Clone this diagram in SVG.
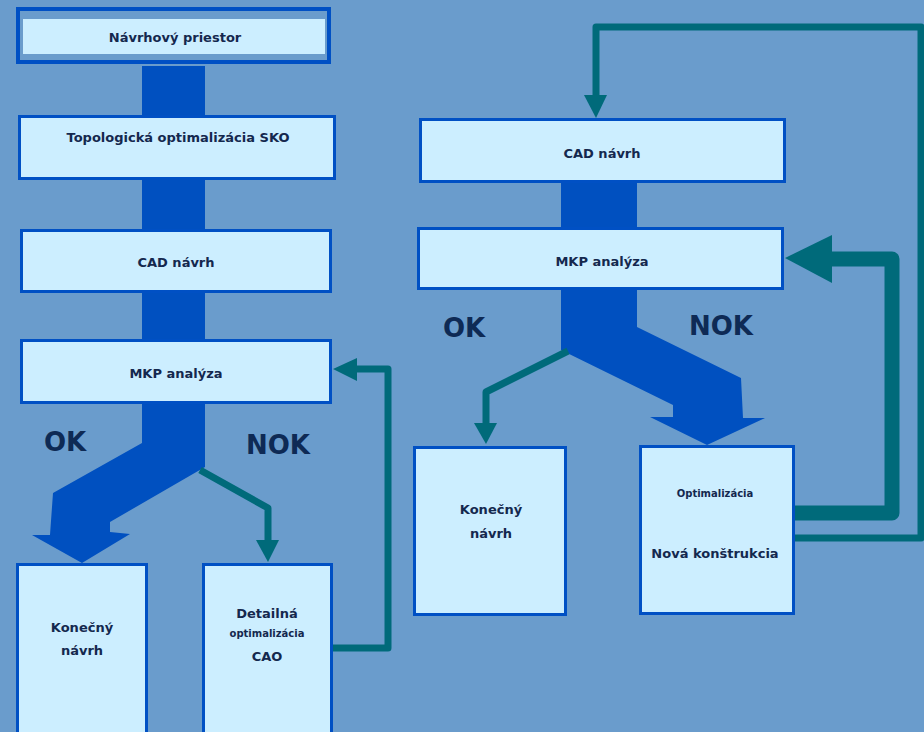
<svg xmlns="http://www.w3.org/2000/svg" width="924" height="732" viewBox="0 0 924 732">
<style>
.bx{fill:#cceeff;stroke:#0050c4;stroke-width:3}
.t{font-family:"DejaVu Sans",Verdana,sans-serif;font-weight:bold;fill:#14284e;text-anchor:middle;font-size:13px}
.s{font-size:10px}
.big{font-size:26px;fill:#0e2a55}
.flow{fill:#0050c0}
.tl{fill:none;stroke:#006a7a;stroke-linejoin:round}
.ah{fill:#006a7a}
</style>
<rect width="924" height="732" fill="#6a9ccc"/>
<g id="connectors">
<rect class="flow" x="142" y="66" width="63" height="52"/>
<rect class="flow" x="142" y="178" width="63" height="54"/>
<rect class="flow" x="142" y="290" width="63" height="52"/>
<polygon class="flow" points="142,402 142,443 53,493 50,535 32,535 82,563 130,534 110,532 110,522 205,467 205,402"/>
<polyline class="tl" stroke-width="7" points="200,470 268,508 268,542"/>
<polygon class="ah" points="256,540 279,540 268,562"/>
<polyline class="tl" stroke-width="7" points="333,648 388,648 388,369 356,369"/>
<polygon class="ah" points="333,369 357,358 357,381"/>
<rect class="flow" x="561" y="181" width="76" height="49"/>
<polygon class="flow" points="561,288 561,350 673,405 673,417 650,417 707,445 765,418 743,418 741,378 637,327 637,288"/>
<polyline class="tl" stroke-width="7" points="568,351 486,392 486,425"/>
<polygon class="ah" points="474,423 497,423 486,444"/>
<polyline class="tl" stroke-width="7" points="795,538 921,538 921,27 596,27 596,97"/>
<polygon class="ah" points="584,95 607,95 596,118"/>
<polyline class="tl" stroke-width="15" points="795,513 892,513 892,259 830,259"/>
<polygon class="ah" points="785,258 832,235 832,283"/>
</g>
<g id="n1">
<rect x="18" y="9" width="311" height="53" fill="none" stroke="#0050c4" stroke-width="4"/>
<rect x="23" y="19" width="302" height="35" fill="#cceeff"/>
<text class="t" x="175" y="42">Návrhový priestor</text>
</g>
<g id="n2">
<rect class="bx" x="19.5" y="116.5" width="315" height="62"/>
<text class="t" x="178" y="142">Topologická optimalizácia SKO</text>
</g>
<g id="n3">
<rect class="bx" x="21.5" y="230.5" width="309" height="61"/>
<text class="t" x="176" y="267">CAD návrh</text>
</g>
<g id="n4">
<rect class="bx" x="21.5" y="340.5" width="309" height="62"/>
<text class="t" x="176" y="378">MKP analýza</text>
</g>
<g id="n5">
<rect class="bx" x="17.5" y="564.5" width="129" height="180"/>
<text class="t" x="82" y="632">Konečný</text>
<text class="t" x="82" y="655">návrh</text>
</g>
<g id="n6">
<rect class="bx" x="203.5" y="564.5" width="128" height="180"/>
<text class="t" x="267" y="618">Detailná</text>
<text class="t s" x="267" y="637">optimalizácia</text>
<text class="t" x="267" y="661">CAO</text>
</g>
<g id="n7">
<rect class="bx" x="420.5" y="119.5" width="364" height="62"/>
<text class="t" x="602" y="158">CAD návrh</text>
</g>
<g id="n8">
<rect class="bx" x="418.5" y="228.5" width="364" height="60"/>
<text class="t" x="602" y="266">MKP analýza</text>
</g>
<g id="n9">
<rect class="bx" x="414.5" y="447.5" width="151" height="167"/>
<text class="t" x="491" y="514">Konečný</text>
<text class="t" x="491" y="538">návrh</text>
</g>
<g id="n10">
<rect class="bx" x="640.5" y="446.5" width="153" height="167"/>
<text class="t s" x="715" y="497">Optimalizácia</text>
<text class="t" x="715" y="558">Nová konštrukcia</text>
</g>
<g id="labels">
<text class="t big" x="65" y="451">OK</text>
<text class="t big" x="278" y="454">NOK</text>
<text class="t big" x="464" y="337">OK</text>
<text class="t big" x="721" y="335">NOK</text>
</g>
</svg>
